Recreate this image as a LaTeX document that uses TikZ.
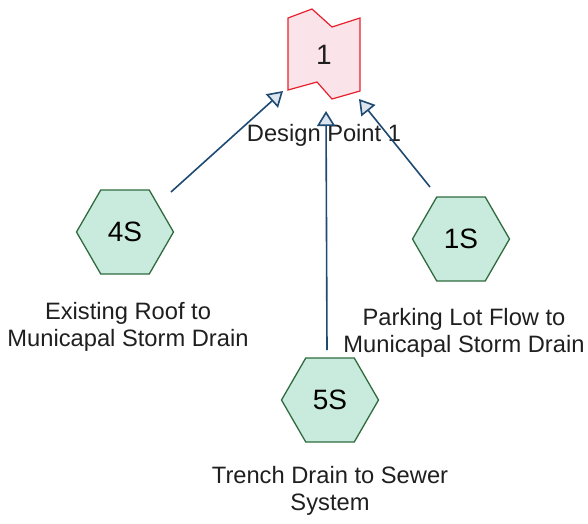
\documentclass[tikz,border=0pt]{standalone}
\usepackage{fontspec}
\setmainfont{Liberation Sans}
\usetikzlibrary{arrows.meta,shapes.geometric,calc}
\definecolor{hexfill}{HTML}{C8EBDD}
\definecolor{hexline}{HTML}{2F6B3E}
\definecolor{reachfill}{HTML}{FBE4E9}
\definecolor{reachline}{HTML}{E8202E}
\definecolor{flowline}{HTML}{1E4A72}
\definecolor{headfill}{HTML}{DCE4EE}
\tikzset{
  subcat/.style={regular polygon, regular polygon sides=6, minimum size=97pt,
    inner sep=0pt, draw=hexline, line width=1.3pt, fill=hexfill,
    font=\fontsize{28}{30}\selectfont},
  caption/.style={align=center, font=\fontsize{23.7}{27}\selectfont, text=black!88},
  flow/.style={draw=flowline, line width=1.6pt,
    -{Triangle[length=15pt, width=18pt, fill=headfill]}},
}
\begin{document}
\begin{tikzpicture}[x=1pt, y=-1pt]
\useasboundingbox (0,0) rectangle (588,523);
% design point (reach)
\draw[reachline, fill=reachfill, line width=1.2pt]
  (288,18) -- (312,9) -- (332,27) -- (360,18) -- (360,91)
  -- (332,99) -- (317,82) -- (288,90) -- cycle;
\node[font=\fontsize{28}{30}\selectfont, text=black!88] (dp) at (324,55) {1};
\node[caption] (dplab) at (324,135) {Design Point 1};
% subcatchments
\node[subcat] (s4) at (125,232) {4S};
\node[subcat] (s1) at (461,239) {1S};
\node[subcat] (s5) at (330,400) {5S};
\node[caption] (l4) at (128,327) {Existing Roof to\\Municapal Storm Drain};
\node[caption] (l1) at (464,333) {Parking Lot Flow to\\Municapal Storm Drain};
\node[caption] (l5) at (330,491) {Trench Drain to Sewer\\System};
% flow end points under the design point
\coordinate (t4) at (283,91);
\coordinate (t5) at (326,111);
\coordinate (t1) at (359,99);
\coordinate (f4) at ($(s4)+(46,-40)$);
\coordinate (f5) at ($(s5)+(-3,-50)$);
\coordinate (f1) at ($(s1)+(-31,-52)$);
\draw[flow] (f4) -- (t4);
\draw[flow] (f5) -- (t5);
\draw[flow] (f1) -- (t1);
\end{tikzpicture}
\end{document}
